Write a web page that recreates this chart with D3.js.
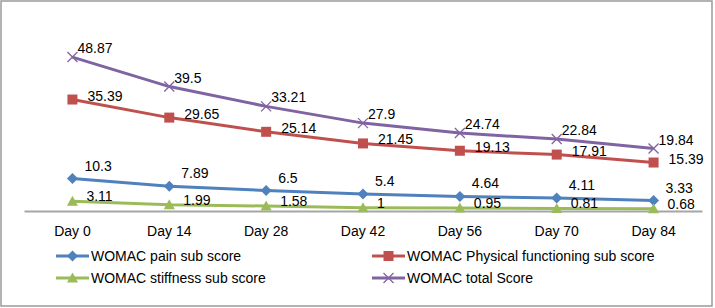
<!DOCTYPE html>
<html>
<head>
<meta charset="utf-8">
<script src="https://cdn.jsdelivr.net/npm/d3@7"></script>
<style>
  body { margin: 0; background: #fff; }
  svg { display: block; font-family: 'Liberation Sans', Arial, sans-serif; }
</style>
</head>
<body>
<svg id="chart" width="715" height="308"></svg>
<script>
const days = ['Day 0', 'Day 14', 'Day 28', 'Day 42', 'Day 56', 'Day 70', 'Day 84']

const painScores = [10.3, 7.89, 6.5, 5.4, 4.64, 4.11, 3.33]
const physicalScores = [35.39, 29.65, 25.14, 21.45, 19.13, 17.91, 15.39]
const stiffnessScores = [3.11, 1.99, 1.58, 1, 0.95, 0.81, 0.68]
const totalScores = [48.87, 39.5, 33.21, 27.9, 24.74, 22.84, 19.84]

const seriesNames = [
  'WOMAC pain sub score',
  'WOMAC Physical functioning sub score',
  'WOMAC stiffness sub score',
  'WOMAC total Score'
]

const series = [
  { name: seriesNames[0], values: painScores, color: '#4f81bd', marker: 'diamond', dx: 12, dy: -8 },
  { name: seriesNames[1], values: physicalScores, color: '#c0504d', marker: 'square', dx: 15, dy: 1 },
  { name: seriesNames[2], values: stiffnessScores, color: '#9bbb59', marker: 'triangle', dx: 14, dy: 0 },
  { name: seriesNames[3], values: totalScores, color: '#8064a2', marker: 'cross', dx: 5, dy: -4 }
]

const fontSize = 14

const svg = d3.select('#chart')

// outer frame
svg.append('rect')
  .attr('x', 1).attr('y', 1)
  .attr('width', 711).attr('height', 305)
  .attr('fill', '#fff')
  .attr('stroke', '#9a9a9a')
  .attr('stroke-width', 1.5)

const x = d3.scaleBand().domain(days).range([24, 702])
const y = d3.scaleLinear().domain([0, 60]).range([211, 22])

// category axis
const axis = svg.append('g')
  .attr('transform', `translate(0,${y(0)})`)
  .call(d3.axisBottom(x).tickSize(0).tickPadding(15))
axis.select('.domain').attr('stroke', '#a6a6a6').attr('stroke-width', 2)
axis.selectAll('text')
  .attr('font-family', "'Liberation Sans', Arial, sans-serif")
  .attr('font-size', fontSize)
  .attr('fill', '#000')

const cx = (d, i) => x(days[i]) + x.bandwidth() / 2

function drawMarker (g, type, color) {
  if (type === 'diamond') {
    g.append('path').attr('d', 'M0,-5.5L5.5,0L0,5.5L-5.5,0Z').attr('fill', color)
  } else if (type === 'square') {
    g.append('rect').attr('x', -5).attr('y', -5).attr('width', 10).attr('height', 10).attr('fill', color)
  } else if (type === 'triangle') {
    g.append('path').attr('d', 'M0,-5.5L5.5,4.5L-5.5,4.5Z').attr('fill', color)
  } else {
    g.append('path').attr('d', 'M-5,-5L5,5M-5,5L5,-5').attr('stroke', color).attr('stroke-width', 1.3).attr('fill', 'none')
  }
}

const line = d3.line().x(cx).y(d => y(d))

for (const s of series) {
  const g = svg.append('g')
  g.append('path')
    .attr('d', line(s.values))
    .attr('fill', 'none')
    .attr('stroke', s.color)
    .attr('stroke-width', 3)
    .attr('stroke-linejoin', 'round')

  g.selectAll('g.pt')
    .data(s.values)
    .join('g')
    .attr('class', 'pt')
    .attr('transform', (d, i) => `translate(${cx(d, i)},${y(d)})`)
    .each(function () { drawMarker(d3.select(this), s.marker, s.color) })
}

// data labels on top
for (const s of series) {
  svg.append('g')
    .selectAll('text')
    .data(s.values)
    .join('text')
    .attr('x', (d, i) => cx(d, i) + s.dx)
    .attr('y', d => y(d) + s.dy)
    .attr('font-size', fontSize)
    .attr('fill', '#000')
    .text(d => d)
}

// legend
const legendPos = [
  { x: 56, y: 256 },
  { x: 372, y: 256 },
  { x: 56, y: 278 },
  { x: 372, y: 278 }
]
series.forEach((s, i) => {
  const p = legendPos[i]
  const g = svg.append('g').attr('transform', `translate(${p.x},${p.y})`)
  g.append('line').attr('x1', 0).attr('x2', 33).attr('stroke', s.color).attr('stroke-width', 3)
  drawMarker(g.append('g').attr('transform', 'translate(16.5,0)'), s.marker, s.color)
  g.append('text')
    .attr('x', 35)
    .attr('y', 5)
    .attr('font-size', fontSize)
    .attr('fill', '#000')
    .text(s.name)
})
</script>
</body>
</html>
